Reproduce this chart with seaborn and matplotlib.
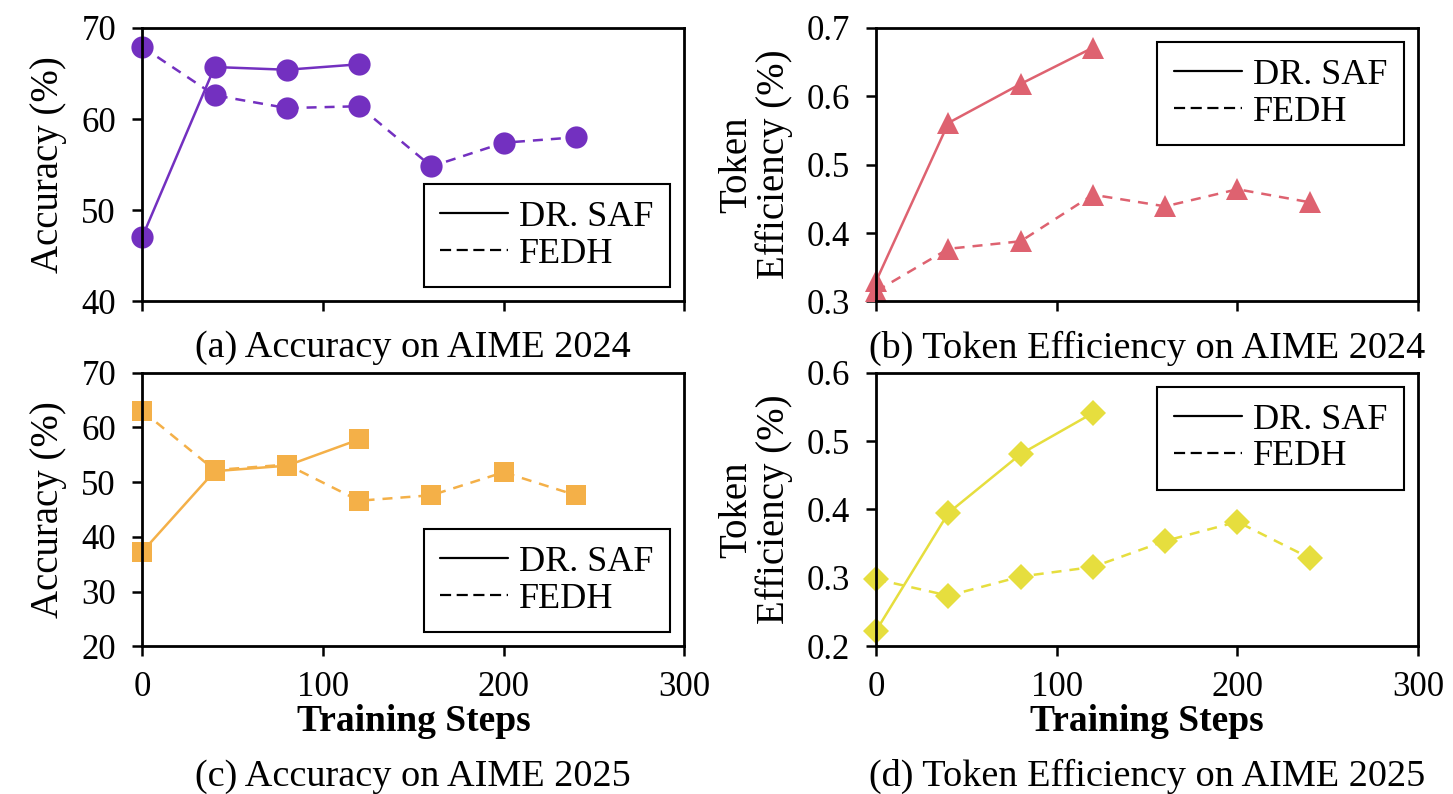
import pandas as pd
import numpy as np
import matplotlib
matplotlib.use("Agg")
import matplotlib.pyplot as plt
from matplotlib.lines import Line2D
import seaborn as sns

# training steps
steps_saf = [0, 40, 80, 120]
steps_fedh = [0, 40, 80, 120, 160, 200, 240]

# (a) accuracy AIME 2024
acc24_saf = [47.1, 65.7, 65.4, 66.0]
acc24_fedh = [67.9, 62.6, 61.2, 61.4, 54.8, 57.4, 58.0]
# (b) token efficiency AIME 2024
eff24_saf = [0.33, 0.561, 0.618, 0.671]
eff24_fedh = [0.315, 0.377, 0.388, 0.456, 0.439, 0.464, 0.445]
# (c) accuracy AIME 2025
acc25_saf = [37.3, 52.0, 53.0, 57.8]
acc25_fedh = [63.0, 52.2, 53.2, 46.6, 47.6, 51.8, 47.6]
# (d) token efficiency AIME 2025
eff25_saf = [0.223, 0.395, 0.481, 0.541]
eff25_fedh = [0.298, 0.274, 0.302, 0.316, 0.354, 0.382, 0.329]

methods = ["DR. SAF", "FEDH"]
captions = ["(a) Accuracy on AIME 2024", "(b) Token Efficiency on AIME 2024",
            "(c) Accuracy on AIME 2025", "(d) Token Efficiency on AIME 2025"]

sns.set_style("ticks")
plt.rcParams['font.family'] = ['Liberation Serif', 'DejaVu Serif']
plt.rcParams['text.color'] = 'black'
plt.rcParams['axes.labelcolor'] = 'black'
plt.rcParams['xtick.color'] = 'black'
plt.rcParams['ytick.color'] = 'black'

def make_df(saf, fedh):
    d1 = pd.DataFrame({"step": steps_saf, "value": saf, "method": "DR. SAF"})
    d2 = pd.DataFrame({"step": steps_fedh, "value": fedh, "method": "FEDH"})
    return pd.concat([d1, d2], ignore_index=True)

panels = [
    (make_df(acc24_saf, acc24_fedh), "#7330c0", "o", 16, "Accuracy (%)", (40, 70), [40, 50, 60, 70], "lower right"),
    (make_df(eff24_saf, eff24_fedh), "#de6270", "^", 16, "Token\nEfficiency (%)", (0.3, 0.7), [0.3, 0.4, 0.5, 0.6, 0.7], "upper right"),
    (make_df(acc25_saf, acc25_fedh), "#f4b048", "s", 15, "Accuracy (%)", (20, 70), [20, 30, 40, 50, 60, 70], "lower right"),
    (make_df(eff25_saf, eff25_fedh), "#e6de3e", "D", 13, "Token\nEfficiency (%)", (0.2, 0.6), [0.2, 0.3, 0.4, 0.5, 0.6], "upper right"),
]

fig, axes = plt.subplots(2, 2, figsize=(14.53, 7.94), dpi=100)
plt.subplots_adjust(left=0.098, right=0.976, top=0.965, bottom=0.186, wspace=0.354, hspace=0.26)

for i, (ax, (df, col, mk, ms, ylab, ylim, yt, loc)) in enumerate(zip(axes.flat, panels)):
    sns.lineplot(data=df, x="step", y="value", style="method", markers={m: mk for m in methods},
                 dashes={"DR. SAF": "", "FEDH": (4, 3.2)}, color=col, linewidth=1.8,
                 markersize=ms, markeredgewidth=0, legend=False, ax=ax, clip_on=False)
    ax.set_xlim(0, 300)
    ax.set_xticks([0, 100, 200, 300])
    ax.set_ylim(*ylim)
    ax.set_yticks(yt)
    if ylim[0] < 1:
        ax.set_yticklabels([f"{v:.1f}" for v in yt])
    ax.set_ylabel(ylab, fontsize=28, labelpad=10, linespacing=1.0)
    ax.tick_params(labelsize=25, width=1.8, length=7, direction="out", color="black")
    ax.tick_params(axis="y", pad=12)
    ax.tick_params(axis="x", pad=11)
    for s in ax.spines.values():
        s.set_linewidth(2)
        s.set_color("black")
    if i < 2:
        ax.set_xticklabels([])
        ax.set_xlabel("")
        ax.text(0.5, -0.17, captions[i], transform=ax.transAxes, ha="center", va="center", fontsize=27.5)
    else:
        ax.set_xlabel("Training Steps", fontsize=27, fontweight="bold", labelpad=0)
        ax.text(0.5, -0.475, captions[i], transform=ax.transAxes, ha="center", va="center", fontsize=27.5)
    handles = [Line2D([0], [0], color="black", lw=1.6, ls="-"),
               Line2D([0], [0], color="black", lw=1.6, ls=(0, (5, 2.5)))]
    leg = ax.legend(handles, methods, loc=loc, fontsize=26, frameon=True, fancybox=False,
                    edgecolor="black", framealpha=1, handlelength=1.9, handletextpad=0.3,
                    borderpad=0.45, labelspacing=0.1, borderaxespad=0.4)
    leg.get_frame().set_linewidth(1.5)

plt.savefig("out.png", dpi=100)
